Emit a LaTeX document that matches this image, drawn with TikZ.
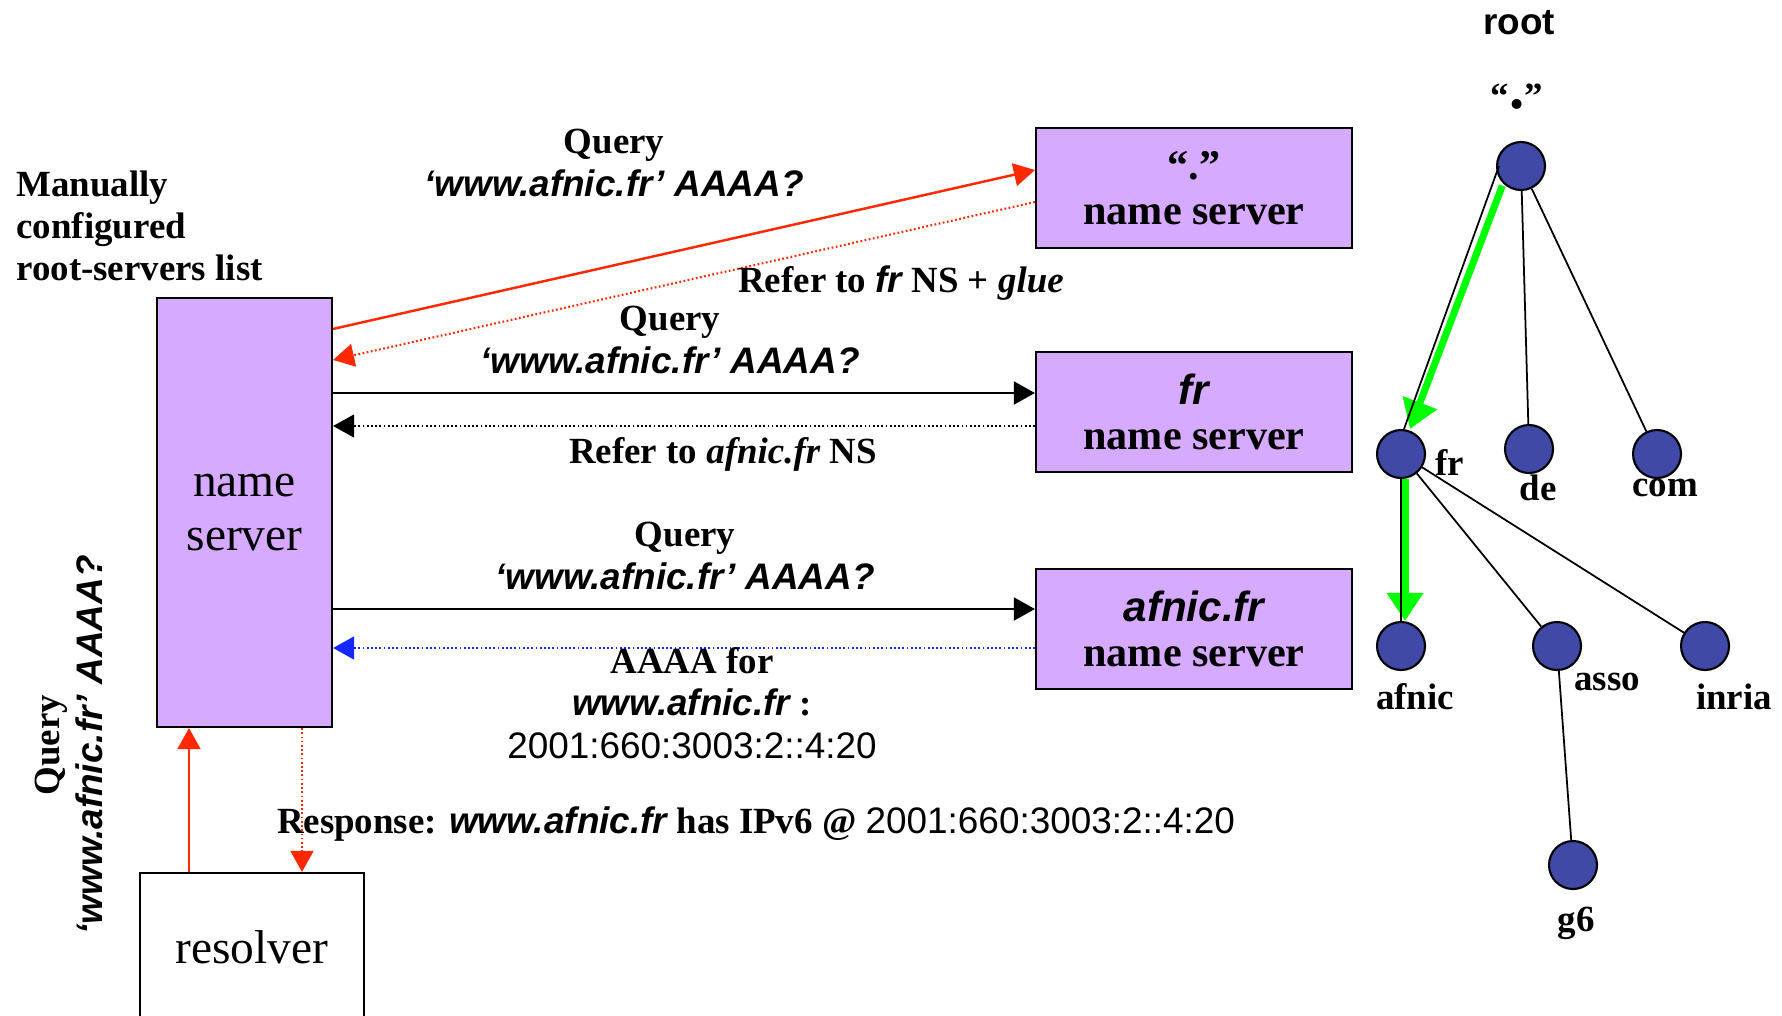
\documentclass[tikz,border=0pt]{standalone}
\usepackage{fontspec}
\setmainfont{Liberation Serif}
\setsansfont{Liberation Sans}
\usetikzlibrary{arrows.meta}
\definecolor{nsfill}{RGB}{214,171,255}
\definecolor{treeblue}{RGB}{64,73,165}
\definecolor{askred}{RGB}{255,40,0}
\definecolor{ansblue}{RGB}{20,40,255}
\definecolor{walkgreen}{RGB}{0,255,0}
\newcommand{\dom}[1]{{\sffamily\bfseries\itshape #1}}
\newcommand{\addr}{{\sffamily\mdseries 2001:660:3003:2::4:20}}

\begin{document}
\begin{tikzpicture}[font=\fontsize{10.5}{12}\selectfont\bfseries,
  server/.style={draw, fill=nsfill, line width=0.6pt, align=center, minimum width=3.16cm, minimum height=1.2cm, font=\fontsize{12}{12.8}\selectfont\bfseries},
  leaf/.style={draw, circle, fill=treeblue, line width=0.6pt, minimum size=0.48cm, inner sep=0pt},
  branch/.style={line width=0.5pt},
  ask/.style={line width=0.7pt, -{Triangle[length=6pt,width=6.5pt]}},
  answer/.style={line width=0.6pt, dash pattern=on 0.5pt off 0.7pt, -{Triangle[length=6pt,width=6.5pt]}},
  walk/.style={walkgreen, line width=2pt, -{Triangle[length=8pt,width=10pt]}}]
\useasboundingbox (0,0) rectangle (17.82,10.15);
\clip (0,0) rectangle (17.82,10.15);

% servers
\node[draw, fill=nsfill, line width=0.6pt, minimum width=1.75cm, minimum height=4.29cm, align=center, font=\fontsize{13.5}{15.6}\selectfont] (ns) at (2.445,5.025) {name\\server};
\node[draw, line width=0.6pt, minimum width=2.24cm, minimum height=1.56cm, font=\fontsize{13.5}{15.6}\selectfont] (res) at (2.52,0.64) {\raisebox{2.5pt}{resolver}};
\node[server] (dotns) at (11.94,8.27) {“.”\\name server};
\node[server] (frns) at (11.94,6.03) {\dom{fr}\\name server};
\node[server] (afns) at (11.94,3.86) {\dom{afnic.fr}\\name server};

\node[align=left, anchor=west] (hints) at (0.04,7.89) {Manually\\configured\\root-servers list};
\node[rotate=90, align=center] (askres) at (0.69,2.70) {Query\\\dom{‘www.afnic.fr’ AAAA?}};

% queries and answers
\draw[ask, askred] ([yshift=-0.32cm]ns.north east) -- ([yshift=0.18cm]dotns.west);
\draw[answer, askred] ([yshift=-0.14cm]dotns.west) -- ([yshift=-0.63cm]ns.north east);
\coordinate (qb) at ([yshift=0.19cm]frns.west);
\coordinate (rb) at ([yshift=-0.14cm]frns.west);
\draw[ask] (ns.east |- qb) -- (qb);
\draw[answer] (rb) -- (ns.east |- rb);
\coordinate (qc) at ([yshift=0.20cm]afns.west);
\coordinate (rc) at ([yshift=-0.19cm]afns.west);
\draw[ask] (ns.east |- qc) -- (qc);
\draw[answer, ansblue] (rc) -- (ns.east |- rc);
\coordinate (up) at ([xshift=-0.63cm]res.north);
\coordinate (down) at ([xshift=0.575cm]ns.south);
\draw[ask, askred] (up) -- (up |- ns.south);
\draw[answer, askred] (down) -- (down |- res.north);

\node[align=center] (qa1) at (6.14,8.52) {Query\\\dom{‘www.afnic.fr’ AAAA?}};
\node (ra1) at (9.01,7.32) {Refer to \dom{fr} NS + \textit{glue}};
\node[align=center] (qb1) at (6.70,6.75) {Query\\\dom{‘www.afnic.fr’ AAAA?}};
\node (rb1) at (7.23,5.61) {Refer to \textit{afnic.fr} NS};
\node[align=center] (qc1) at (6.85,4.59) {Query\\\dom{‘www.afnic.fr’ AAAA?}};
\node[align=center] (rc1) at (6.92,3.12) {AAAA for\\\dom{www.afnic.fr} :\\\addr};
\node (resp) at (7.56,1.91) {Response: \dom{www.afnic.fr} has IPv6 @ \addr};

% tree
\node (rootlbl) at (15.19,9.92) {\sffamily root};
\node (dotlbl) at (15.17,9.18) {“{\LARGE.}”};
\node[leaf] (root) at (15.21,8.49) {};
\node[leaf] (fr) at (14.01,5.61) {};
\node[leaf] (de) at (15.29,5.66) {};
\node[leaf] (com) at (16.57,5.61) {};
\node[leaf] (afnic) at (14.01,3.69) {};
\node[leaf] (asso) at (15.57,3.69) {};
\node[leaf] (inria) at (17.05,3.69) {};
\node[leaf] (g6) at (15.73,1.50) {};
\node (frl) at (14.50,5.53) {fr};
\node (del) at (15.38,5.27) {de};
\node (coml) at (16.65,5.27) {com};
\node (afnicl) at (14.15,3.18) {afnic};
\node (assol) at (16.07,3.33) {asso};
\node (inrial) at (17.34,3.18) {inria};
\node (g6l) at (15.76,0.92) {g6};
\draw[walk] ([shift={(-0.01,-0.02)}]root.south west) -- ([xshift=0.09cm]fr.north);
\draw[walk] ([xshift=0.04cm]fr.south) -- ([xshift=0.04cm]afnic.north);
\draw[branch] ([xshift=0.03cm]root.west) -- ([xshift=0.03cm]fr.north);
\draw[branch] (root) -- (de);
\draw[branch] (root) -- (com);
\draw[branch] (fr) -- (afnic);
\draw[branch] (fr) -- (asso);
\draw[branch] (fr) -- (inria);
\draw[branch] (asso) -- (g6);
\end{tikzpicture}
\end{document}
